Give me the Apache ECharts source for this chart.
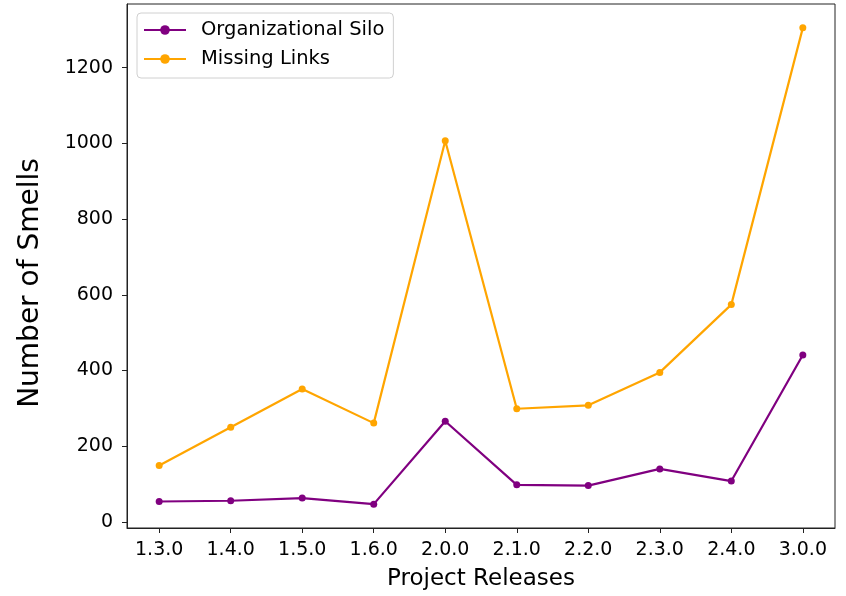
<!DOCTYPE html>
<html>
<head>
<meta charset="utf-8">
<script src="https://cdn.jsdelivr.net/npm/echarts@6/dist/echarts.min.js"></script>
<style>
  html, body { margin: 0; padding: 0; background: #fff; }
  #chart { width: 846px; height: 596px; }
</style>
</head>
<body>
<div id="chart"></div>
<script>
const releases = ['1.3.0', '1.4.0', '1.5.0', '1.6.0', '2.0.0', '2.1.0', '2.2.0', '2.3.0', '2.4.0', '3.0.0'];
const organizationalSilo = [54, 56, 63, 47, 266, 98, 96, 140, 108, 441];
const missingLinks = [149, 250, 351, 261, 1007, 299, 308, 395, 574, 1305];
const yTicks = [0, 200, 400, 600, 800, 1000, 1200];

const font = 'DejaVu Sans';
const chart = echarts.init(document.getElementById('chart'), null, { renderer: 'canvas' });
const idx = releases.map((_, i) => i);

chart.setOption({
  animation: false,
  backgroundColor: '#fff',
  textStyle: { fontFamily: font, color: '#000' },
  grid: {
    left: 127, right: 11, top: 4, bottom: 66,
    show: true, borderColor: '#222', borderWidth: 1, backgroundColor: 'transparent'
  },
  legend: {
    orient: 'vertical',
    left: 137, top: 13,
    padding: [7, 9, 9, 6],
    itemGap: 9,
    itemWidth: 42, itemHeight: 12,
    borderColor: '#d0d0d0', borderWidth: 1, borderRadius: 4,
    backgroundColor: 'rgba(255,255,255,0.8)',
    textStyle: { fontFamily: font, fontSize: 19.5, color: '#000', lineHeight: 20, padding: [0, 0, 0, 10] },
    data: ['Organizational Silo', 'Missing Links']
  },
  xAxis: {
    type: 'value',
    min: -0.45, max: 9.45,
    name: 'Project Releases',
    nameLocation: 'middle',
    nameGap: 40,
    nameTextStyle: { fontFamily: font, fontSize: 23, color: '#000' },
    axisLine: { show: true, onZero: false, lineStyle: { color: '#222', width: 1 } },
    axisTick: { show: true, length: 5, inside: false, customValues: idx, lineStyle: { color: '#222' } },
    axisLabel: {
      customValues: idx,
      margin: 13,
      fontFamily: font, fontSize: 19, color: '#000',
      formatter: v => releases[Math.round(v)]
    },
    splitLine: { show: false }
  },
  yAxis: {
    type: 'value',
    min: -16, max: 1368,
    name: 'Number of Smells',
    nameLocation: 'middle',
    nameRotate: 90,
    nameGap: 82,
    nameTextStyle: { fontFamily: font, fontSize: 28, color: '#000', padding: [0, 34, 0, 0] },
    axisLine: { show: true, onZero: false, lineStyle: { color: '#222', width: 1 } },
    axisTick: { show: true, length: 5, inside: false, customValues: yTicks, lineStyle: { color: '#222' } },
    axisLabel: {
      customValues: yTicks,
      margin: 14,
      fontFamily: font, fontSize: 19, color: '#000',
      formatter: v => String(v)
    },
    splitLine: { show: false }
  },
  series: [
    {
      name: 'Organizational Silo',
      type: 'line',
      data: organizationalSilo.map((v, i) => [i, v]),
      symbol: 'circle', symbolSize: 7,
      lineStyle: { color: '#800080', width: 2.2 },
      itemStyle: { color: '#800080' }
    },
    {
      name: 'Missing Links',
      type: 'line',
      data: missingLinks.map((v, i) => [i, v]),
      symbol: 'circle', symbolSize: 7,
      lineStyle: { color: '#FFA500', width: 2.2 },
      itemStyle: { color: '#FFA500' }
    }
  ]
});
</script>
</body>
</html>
